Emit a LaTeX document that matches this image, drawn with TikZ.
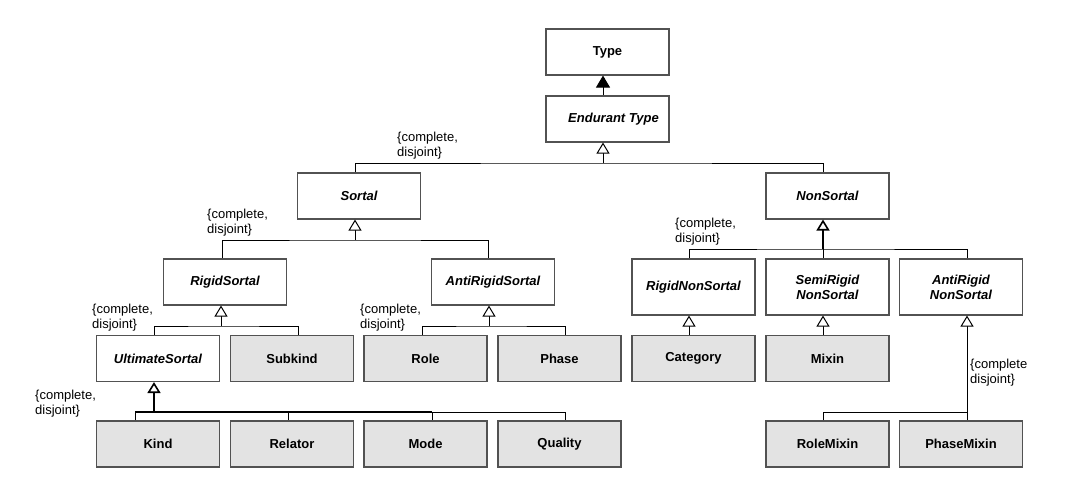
\documentclass[tikz,border=0pt]{standalone}
\usepackage{fontspec}
\setmainfont{Liberation Sans}
\usetikzlibrary{arrows.meta}
\begin{document}
\begin{tikzpicture}[x=1pt,y=-1pt,
  box/.style={draw=black!68, line width=1.1pt, minimum width=123pt, minimum height=46pt, inner sep=0pt, align=center, font=\fontsize{13}{15}\selectfont\bfseries},
  abs/.style={box, fill=white, font=\fontsize{13}{15}\selectfont\bfseries\itshape},
  tall/.style={minimum height=56pt},
  conc/.style={box, fill=black!11},
  lbl/.style={anchor=west, align=left, inner sep=0pt, font=\fontsize{13}{15}\selectfont},
  con/.style={draw=black, line width=1pt},
  thick con/.style={draw=black, line width=1.6pt},
  gen/.style={con, -{Triangle[open, length=11pt, width=13pt, fill=white]}},
  genfill/.style={con, -{Triangle[length=12pt, width=14pt]}},
]
\useasboundingbox (0,0) rectangle (1070,479);

% row 0-1
\node[box, fill=white] (Type) at (607.5,52) {Type};
\node[abs] (End) at (607.5,119) {\hspace*{12pt}Endurant Type};
% row 2
\node[abs] (Sortal) at (359,196) {Sortal};
\node[abs] (NonSortal) at (827.5,196) {NonSortal};
% row 3
\node[abs] (RigidS) at (225,282) {RigidSortal};
\node[abs] (AntiS) at (493,282) {AntiRigidSortal};
\node[abs, tall] (RigidNS) at (693.5,287) {RigidNonSortal};
\node[abs, tall] (SemiNS) at (827.5,287) {SemiRigid\\NonSortal};
\node[abs, tall] (AntiNS) at (961,287) {AntiRigid\\NonSortal};
% row 4
\node[abs] (Ult) at (158,358.5) {UltimateSortal};
\node[conc] (Subkind) at (292,358.5) {Subkind};
\node[conc] (Role) at (425.5,358.5) {Role};
\node[conc] (Phase) at (559.5,358.5) {Phase};
\node[conc] (Category) at (693.5,358.5) {Category};
\node[conc] (Mixin) at (827.5,358.5) {Mixin};
% row 5
\node[conc] (Kind) at (158,444) {Kind};
\node[conc] (Relator) at (292,444) {Relator};
\node[conc] (Mode) at (425.5,444) {Mode};
\node[conc] (Quality) at (559.5,444) {Quality};
\node[conc] (RoleMixin) at (827.5,444) {RoleMixin};
\node[conc] (PhaseMixin) at (961,444) {PhaseMixin};

% Endurant -> Type
\draw[genfill] ([xshift=-4.5]End.north) -- ([xshift=-4.5]Type.south);

% Endurant generalization set
\coordinate (g1) at (603,163);
\draw[con] ([xshift=-4]Sortal.north) |- (g1) -| ([xshift=-4.5]NonSortal.north);
\draw[gen] (g1) -- ([xshift=-4.5]End.south);

% Sortal
\coordinate (g2) at (355,240);
\draw[con] ([xshift=-3]RigidS.north) |- (g2) -| ([xshift=-5]AntiS.north);
\draw[gen] (g2) -- ([xshift=-4]Sortal.south);

% RigidSortal
\coordinate (g3) at (221,326);
\draw[con] ([xshift=-4]Ult.north) |- (g3) -| ([xshift=6]Subkind.north);
\draw[gen] (g3) -- ([xshift=-4]RigidS.south);

% AntiRigidSortal
\coordinate (g4) at (489,326);
\draw[con] ([xshift=-3.5]Role.north) |- (g4) -| ([xshift=5.5]Phase.north);
\draw[gen] (g4) -- ([xshift=-4]AntiS.south);

% UltimateSortal
\coordinate (g5) at (154,412);
\coordinate (k5) at ([xshift=-23]Kind.north);
\coordinate (m5) at ([xshift=6.5]Mode.north);
\draw[con] (k5) |- (g5);
\draw[con] (g5) -| ([xshift=-4]Relator.north);
\draw[con] (g5) -| (m5);
\draw[con] (g5) -| ([xshift=5.5]Quality.north);
\draw[thick con] (k5 |- g5) -- (m5 |- g5);
\draw[gen, line width=1.6pt] (g5) -- ([xshift=-4]Ult.south);

% NonSortal
\coordinate (g6) at (823,249);
\draw[con] ([xshift=-4.5]RigidNS.north) |- (g6) -| ([xshift=6]AntiNS.north);
\draw[con] (g6) -- ([xshift=-4.5]SemiNS.north);
\draw[gen, line width=1.6pt] (g6) -- ([xshift=-4.5]NonSortal.south);

% RigidNonSortal -> Category, SemiRigid -> Mixin
\draw[gen] ([xshift=-4.5]Category.north) -- ([xshift=-4.5]RigidNS.south);
\draw[gen] ([xshift=-4.5]Mixin.north) -- ([xshift=-4.5]SemiNS.south);

% AntiRigid NonSortal
\coordinate (g7) at (967,412);
\draw[con] ([xshift=-4.5]RoleMixin.north) |- (g7) -- ([xshift=6]PhaseMixin.north);
\draw[gen] (g7) -- ([xshift=6]AntiNS.south);

% labels
\node[lbl] (L1) at (397,145.5) {\{complete,\\disjoint\}};
\node[lbl] (L2) at (207,222.5) {\{complete,\\disjoint\}};
\node[lbl] (L3) at (92,317.5) {\{complete,\\disjoint\}};
\node[lbl] (L4) at (360,317.5) {\{complete,\\disjoint\}};
\node[lbl] (L5) at (35,404) {\{complete,\\disjoint\}};
\node[lbl] (L6) at (675,231.5) {\{complete,\\disjoint\}};
\node[lbl] (L7) at (970,372.5) {\{complete\\disjoint\}};
\end{tikzpicture}
\end{document}
